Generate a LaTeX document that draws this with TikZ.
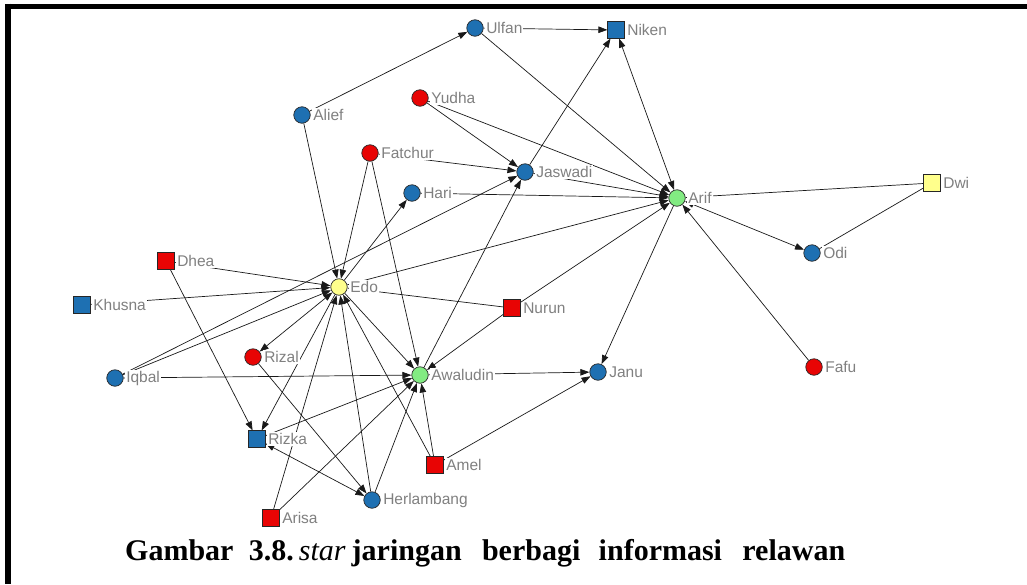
\documentclass[tikz,border=0pt]{standalone}
\usepackage{fontspec}
\setmainfont{Liberation Serif}
\newfontfamily\labfont{Liberation Sans}
\usetikzlibrary{arrows.meta,backgrounds}

\definecolor{nblue}{RGB}{30,112,178}
\definecolor{nred}{RGB}{232,4,4}
\definecolor{ngreen}{RGB}{130,235,130}
\definecolor{nyellow}{RGB}{255,255,140}
\definecolor{labgray}{RGB}{128,128,128}

\begin{document}
\begin{tikzpicture}[x=1pt,y=-1pt,
  vtx/.style={draw=black!85,line width=0.7pt,inner sep=0pt,minimum size=16.5pt},
  circ/.style={vtx,circle},
  sq/.style={vtx,rectangle},
  lbl/.style={font=\labfont\fontsize{15.5}{15.5}\selectfont,text=labgray,fill=white,inner sep=1pt},
  label distance=1.5pt,
  tie/.style={line width=0.7pt,black!90},
  arr/.style={tie,-{Triangle[length=9pt,width=6.5pt]}},
  arr2/.style={tie,{Triangle[length=9pt,width=6.5pt]}-{Triangle[length=9pt,width=6.5pt]}}
]
\useasboundingbox (0,0) rectangle (1027,584);

% frame
\draw[line width=5pt] (5,6) -- (1027,6);
\draw[line width=5.5pt] (8,3.5) -- (8,584);

% actors
\node[circ,fill=nblue,label={[lbl]east:Ulfan}] (ulfan) at (475,28) {};
\node[sq,fill=nblue,label={[lbl]east:Niken}] (niken) at (616,30) {};
\node[circ,fill=nblue,label={[lbl]east:Alief}] (alief) at (302,115) {};
\node[circ,fill=nred,label={[lbl]east:Yudha}] (yudha) at (420,98) {};
\node[circ,fill=nred,label={[lbl]east:Fatchur}] (fatchur) at (370,153) {};
\node[circ,fill=nblue,label={[lbl]east:Jaswadi}] (jaswadi) at (525,172) {};
\node[circ,fill=nblue,label={[lbl]east:Hari}] (hari) at (412,193) {};
\node[circ,fill=ngreen,label={[lbl]east:Arif}] (arif) at (677,198) {};
\node[sq,fill=nyellow,label={[lbl]east:Dwi}] (dwi) at (932,183) {};
\node[circ,fill=nblue,label={[lbl]east:Odi}] (odi) at (812,253) {};
\node[sq,fill=nred,label={[lbl]east:Dhea}] (dhea) at (166,261) {};
\node[circ,fill=nyellow,label={[lbl]east:Edo}] (edo) at (339,287) {};
\node[sq,fill=nblue,label={[lbl]east:Khusna}] (khusna) at (82,305) {};
\node[sq,fill=nred,label={[lbl]east:Nurun}] (nurun) at (512,308) {};
\node[circ,fill=nred,label={[lbl]east:Rizal}] (rizal) at (253,357) {};
\node[circ,fill=nblue,label={[lbl]east:Iqbal}] (iqbal) at (115,378) {};
\node[circ,fill=ngreen,label={[lbl]east:Awaludin}] (awaludin) at (420,375) {};
\node[circ,fill=nblue,label={[lbl]east:Janu}] (janu) at (598,372) {};
\node[circ,fill=nred,label={[lbl]east:Fafu}] (fafu) at (814,367) {};
\node[sq,fill=nblue,label={[lbl]east:Rizka}] (rizka) at (257,439) {};
\node[sq,fill=nred,label={[lbl]east:Amel}] (amel) at (435,465) {};
\node[circ,fill=nblue,label={[lbl]east:Herlambang}] (herlambang) at (372,500) {};
\node[sq,fill=nred,label={[lbl]east:Arisa}] (arisa) at (271,518) {};

% ties, drawn beneath the actors and their names
\begin{pgfonlayer}{background}
\fill[white] (0,0) rectangle (1027,584);
\draw[arr] (alief) -- (ulfan);
\draw[arr] (ulfan) -- (niken);
\draw[arr] (ulfan) -- (arif);
\draw[arr] (jaswadi) -- (niken);
\draw[arr2] (arif) -- (niken);
\draw[arr] (yudha) -- (jaswadi);
\draw[arr] (yudha) -- (arif);
\draw[arr] (fatchur) -- (jaswadi);
\draw[arr] (fatchur) -- (edo);
\draw[arr] (fatchur) -- (awaludin);
\draw[arr] (alief) -- (edo);
\draw[arr] (jaswadi) -- (arif);
\draw[arr] (hari) -- (arif);
\draw[arr] (edo) -- (hari);
\draw[arr] (edo) -- (arif);
\draw[arr] (iqbal) -- (jaswadi);
\draw[arr] (iqbal) -- (edo);
\draw[arr] (iqbal) -- (awaludin);
\draw[arr] (dhea) -- (edo);
\draw[arr] (dhea) -- (rizka);
\draw[arr] (khusna) -- (edo);
\draw[arr] (nurun) -- (edo);
\draw[arr] (nurun) -- (arif);
\draw[arr] (nurun) -- (awaludin);
\draw[arr2] (edo) -- (rizal);
\draw[arr] (rizal) -- (herlambang);
\draw[arr] (edo) -- (rizka);
\draw[arr] (edo) -- (awaludin);
\draw[arr] (herlambang) -- (edo);
\draw[arr] (amel) -- (edo);
\draw[arr] (arisa) -- (edo);
\draw[arr] (amel) -- (awaludin);
\draw[arr] (amel) -- (janu);
\draw[arr] (arisa) -- (awaludin);
\draw[arr] (rizka) -- (awaludin);
\draw[arr2] (rizka) -- (herlambang);
\draw[arr] (herlambang) -- (awaludin);
\draw[arr] (awaludin) -- (janu);
\draw[arr] (awaludin) -- (jaswadi);
\draw[arr] (arif) -- (janu);
\draw[arr2] (arif) -- (odi);
\draw[arr] (fafu) -- (arif);
\draw[tie] (dwi) -- (arif);
\draw[tie] (dwi) -- (odi);
\end{pgfonlayer}

% caption
\node[anchor=base west,inner sep=0pt,font=\fontsize{30}{30}\selectfont\bfseries] (cap) at (125,560)
  {\makebox[720pt][s]{Gambar\hspace{0pt plus 1.5fill}3.8.\hspace{0pt plus 0.5fill}{\mdseries\itshape star}\hspace{0pt plus 0.6fill}jaringan\hspace{0pt plus 2fill}berbagi\hspace{0pt plus 1.8fill}informasi\hspace{0pt plus 2fill}relawan}};
\end{tikzpicture}
\end{document}
